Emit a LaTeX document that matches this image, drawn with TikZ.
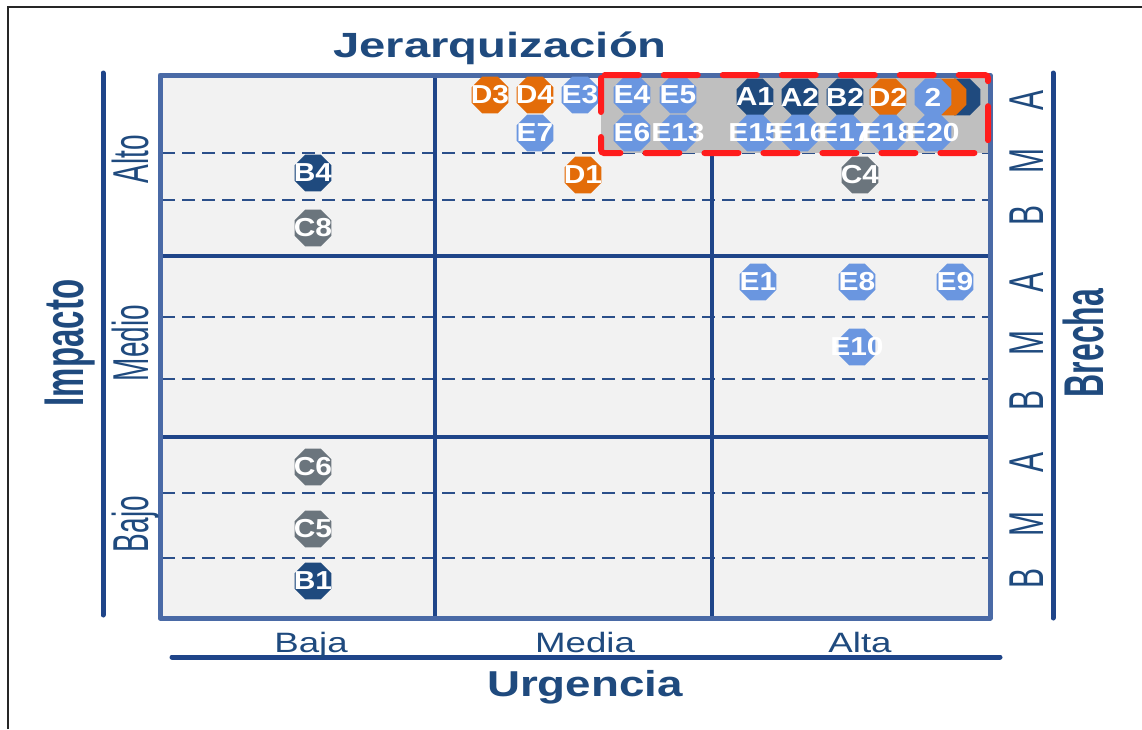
\documentclass[tikz,border=0pt]{standalone}
\usepackage{fontspec}
\setmainfont{Liberation Sans}
\usetikzlibrary{shapes.geometric}
\definecolor{navy}{HTML}{1F4A7E}
\definecolor{frameblue}{HTML}{4A6AA6}
\definecolor{lineblue}{HTML}{1F4589}
\definecolor{dashblue}{HTML}{2B4F8A}
\definecolor{ltblue}{HTML}{6A96E0}
\definecolor{orng}{HTML}{E36C09}
\definecolor{slate}{HTML}{6B757D}
\definecolor{hlgray}{HTML}{BFBFBF}
\definecolor{gridbg}{HTML}{F2F2F2}
\definecolor{hlred}{HTML}{FF1C1C}
\newcommand{\ftsz}[1]{\fontsize{#1}{#1}\selectfont}

\tikzset{
  octo/.style={regular polygon, regular polygon sides=8, minimum size=40pt, inner sep=0pt},
  lbl/.style={text=white, font=\bfseries\ftsz{26}, inner sep=0pt},
  axisline/.style={lineblue, line width=5pt, line cap=round},
  cellline/.style={lineblue, line width=4pt},
  subline/.style={dashblue, line width=2pt, dash pattern=on 13pt off 7pt},
  txt/.style={text=navy, inner sep=0pt, anchor=base},
}

\begin{document}
\begin{tikzpicture}[x=1pt, y=-1pt]
    \useasboundingbox (0,0) rectangle (1142,729);
    % outer frame of the figure (only left and top show)
    \draw[black!85, line width=2pt] (8,729) -- (8,7) -- (1142,7);

    % grid corners
    \coordinate (nw) at (160,75);
    \coordinate (se) at (990,618);
    \fill[gridbg] (nw) rectangle (se);

    % dashed sub rows of the brecha
    \foreach \yy in {153,200,317,379,493,558}
        \draw[subline] (162,\yy) -- (988,\yy);
    % solid rows and columns
    \foreach \yy in {256,437}
        \draw[cellline] (160,\yy) -- (990,\yy);
    \foreach \xx in {435,712}
        \draw[cellline] (\xx,75) -- (\xx,618);

    % highlighted zone
    \fill[hlgray] (601,77) rectangle (988,153);
    % grid border
    \draw[frameblue, line width=5pt, line join=round] (nw) rectangle (se);

    % the markers
    \foreach \nm/\x/\y/\col/\txt in {
        D3/490/95/orng/D3, D4/535/95/orng/D4, E3/580/95/ltblue/E3,
        E4/632/95/ltblue/E4, E5/678/95/ltblue/E5,
        A1/755/97/navy/A1, A2/800/97/navy/A2, B2/845/97/navy/B2,
        D2/888/97/orng/D2, hn/962/97/navy/{}, ho/948/97/orng/{},
        two/933/97/ltblue/2,
        E7/535/133/ltblue/E7, E6/632/133/ltblue/E6, E13/678/133/ltblue/E13,
        E15/755/133/ltblue/E15, E16/800/133/ltblue/E16, E17/845/133/ltblue/E17,
        E18/888/133/ltblue/E18, E20/933/133/ltblue/E20,
        D1/583/175/orng/D1, C4/860/175/slate/C4,
        B4/313/173/navy/B4, C8/313/228/slate/C8,
        E1/758/282/ltblue/E1, E8/857/282/ltblue/E8, E9/955/282/ltblue/E9,
        E10/857/347/ltblue/E10,
        C6/313/467/slate/C6, C5/313/529/slate/C5, B1/313/581/navy/B1}
        \node[octo, fill=\col, label={[lbl]center:\scalebox{1.15}[1]{\txt}}] (m-\nm) at (\x,\y) {};

    % red dashed frame of the highlighted zone
    \draw[hlred, line width=6pt, line cap=round, rounded corners=3pt,
          dash pattern=on 34pt off 25pt] (601,75) rectangle (988,153);

    % title
    \node[txt, font=\bfseries\ftsz{35}] (title) at (500,57) {\scalebox{1.35}[1]{Jerarquización}};

    % impacto axis
    \coordinate (imp-top) at (103,73);
    \coordinate (imp-bot) at (103,615);
    \draw[axisline] (imp-top) -- (imp-bot);
    \node[txt, rotate=90, font=\bfseries\ftsz{33}] (impacto) at (83,343) {\scalebox{1}[1.7]{Impacto}};
    \node[txt, rotate=90, font=\ftsz{28}] (alto) at (148,159) {\scalebox{1}[1.8]{Alto}};
    \node[txt, rotate=90, font=\ftsz{28}] (medio) at (148,343) {\scalebox{1}[1.8]{Medio}};
    \node[txt, rotate=90, font=\ftsz{28}] (bajo) at (148,524) {\scalebox{1}[1.8]{Bajo}};

    % brecha axis
    \coordinate (bre-top) at (1053,73);
    \coordinate (bre-bot) at (1053,618);
    \draw[axisline] (bre-top) -- (bre-bot);
    \node[txt, rotate=90, font=\bfseries\ftsz{32}] (brecha) at (1103,343) {\scalebox{1}[1.75]{Brecha}};
    \foreach \lt/\y [count=\i] in {A/100,M/161,B/215,A/282,M/343,B/400,A/462,M/524,B/578}
        \node[txt, rotate=90, font=\ftsz{30}] (br-\i) at (1043,\y) {\scalebox{1}[1.63]{\lt}};

    % urgencia axis
    \coordinate (urg-left) at (172,657);
    \coordinate (urg-right) at (1000,657);
    \draw[axisline] (urg-left) -- (urg-right);
    \node[txt, font=\ftsz{28}] (baja) at (311,652) {\scalebox{1.31}[1]{Baja}};
    \node[txt, font=\ftsz{28}] (media) at (585,652) {\scalebox{1.31}[1]{Media}};
    \node[txt, font=\ftsz{28}] (alta) at (860,652) {\scalebox{1.31}[1]{Alta}};
    \node[txt, font=\bfseries\ftsz{36}] (urgencia) at (585,696) {\scalebox{1.27}[1]{Urgencia}};
\end{tikzpicture}
\end{document}
